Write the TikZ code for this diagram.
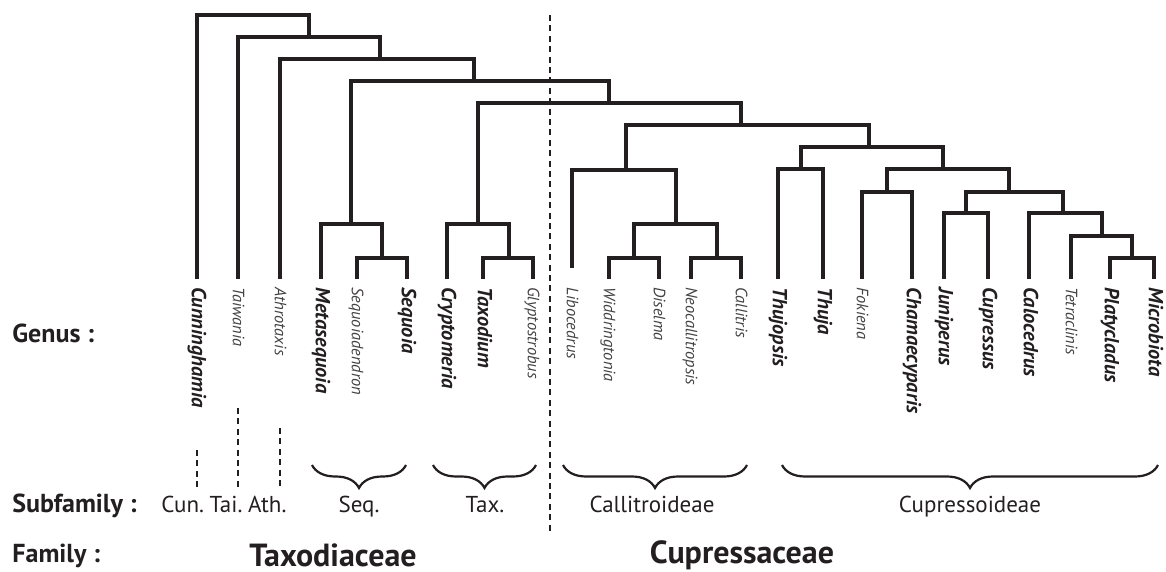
\documentclass[tikz,border=0pt]{standalone}
\usepackage{fontspec}
\setmainfont{PT Sans}
\usetikzlibrary{positioning, decorations.pathreplacing}
\definecolor{treeink}{RGB}{35,31,32}

\begin{document}
\begin{tikzpicture}[
    x=0.5pt, y=-0.5pt,
    branch/.style={draw=treeink, line width=1.6pt},
    divider/.style={draw=treeink, line width=1.3pt, dash pattern=on 3pt off 2.2pt},
    subbrace/.style={draw=treeink, line width=1.1pt, decorate, decoration={brace, mirror, amplitude=11.5pt}},
    genusbold/.style={rotate=-90, anchor=west, inner xsep=4pt, inner ysep=0pt, text height=0.72em, text depth=0.2em, font=\fontsize{10.2}{12}\selectfont\bfseries\itshape, text=treeink},
    genusthin/.style={genusbold, font=\fontsize{8.2}{10}\selectfont\itshape, text=treeink!85},
    rowlabel/.style={anchor=west, inner sep=0pt, font=\fontsize{13}{15}\selectfont\bfseries, text=treeink},
    sublabel/.style={inner xsep=1.2pt, inner ysep=0pt, text height=1.6ex, text depth=0.4ex, font=\fontsize{11.5}{14}\selectfont, text=treeink},
    famlabel/.style={inner sep=0pt, font=\fontsize{16}{18}\selectfont\bfseries, text=treeink},
]
\useasboundingbox (0,0) rectangle (1166,572);

% Genus labels, one per leaf
\node[genusbold] (cun) at (197,279) {Cunninghamia};
\node[genusthin] (tai) at (238,279) {Taiwania};
\node[genusthin] (ath) at (280,279) {Athrotaxis};
\node[genusbold] (meta) at (321,279) {Metasequoia};
\node[genusthin] (sqd) at (357,279) {Sequoiadendron};
\node[genusbold] (seq) at (407,279) {Sequoia};
\node[genusbold] (cry) at (447,279) {Cryptomeria};
\node[genusbold] (tax) at (483,279) {Taxodium};
\node[genusthin] (gly) at (533,279) {Glyptostrobus};
\node[genusthin] (lib) at (572,279) {Libocedrus};
\node[genusthin] (wid) at (609,279) {Widdringtonia};
\node[genusthin] (dis) at (659,279) {Diselma};
\node[genusthin] (neo) at (691,279) {Neocallitropsis};
\node[genusthin] (cal) at (741,279) {Callitris};
\node[genusbold] (thp) at (778,279) {Thujopsis};
\node[genusbold] (thu) at (823,279) {Thuja};
\node[genusthin] (fok) at (862,279) {Fokiena};
\node[genusbold] (cha) at (912,279) {Chamaecyparis};
\node[genusbold] (jun) at (944,279) {Juniperus};
\node[genusbold] (cup) at (988,279) {Cupressus};
\node[genusbold] (cld) at (1029,279) {Calocedrus};
\node[genusthin] (tet) at (1071,279) {Tetraclinis};
\node[genusbold] (pla) at (1110,279) {Platycladus};
\node[genusbold] (mic) at (1154,279) {Microbiota};

% Internal nodes of the tree
\coordinate (root) at (250,15);
\coordinate (n2) at (309,37);
\coordinate (n3) at (380,59);
\coordinate (n4) at (474,81);
\coordinate (n5) at (609,103);
\coordinate (n6) at (741,125);
\coordinate (nseq) at (351,224);
\coordinate (nsq2) at (382,258);
\coordinate (ntax) at (478,224);
\coordinate (ntx2) at (509,258);
\coordinate (ncall) at (626,170);
\coordinate (nwn) at (676,224);
\coordinate (nwd) at (634,258);
\coordinate (nnc) at (717,258);
\coordinate (ncup) at (869,147);
\coordinate (nthu) at (801,169);
\coordinate (nfm) at (943,169);
\coordinate (nfc) at (887,192);
\coordinate (njm) at (1009,192);
\coordinate (njc) at (966,213);
\coordinate (ncm) at (1063,213);
\coordinate (ntm) at (1102,236);
\coordinate (npm) at (1132,258);

% Backbone
\draw[branch] (cun.west) |- (root) -| (n2);
\draw[branch] (tai.west) |- (n2) -| (n3);
\draw[branch] (ath.west) |- (n3) -| (n4);
\draw[branch] (nseq) |- (n4) -| (n5);
\draw[branch] (ntax) |- (n5) -| (n6);
\draw[branch] (ncall) |- (n6) -| (ncup);

% Sequoia and Taxodium clades
\draw[branch] (meta.west) |- (nseq) -| (nsq2);
\draw[branch] (sqd.west) |- (nsq2) -| (seq.west);
\draw[branch] (cry.west) |- (ntax) -| (ntx2);
\draw[branch] (tax.west) |- (ntx2) -| (gly.west);

% Callitroid clade
\draw[branch, shorten <=5.5pt] (lib.west) |- (ncall) -| (nwn);
\draw[branch] (nwd) |- (nwn) -| (nnc);
\draw[branch] (wid.west) |- (nwd) -| (dis.west);
\draw[branch] (neo.west) |- (nnc) -| (cal.west);

% Cupressoid clade
\draw[branch] (nthu) |- (ncup) -| (nfm);
\draw[branch] (thp.west) |- (nthu) -| (thu.west);
\draw[branch] (nfc) |- (nfm) -| (njm);
\draw[branch] (fok.west) |- (nfc) -| (cha.west);
\draw[branch] (njc) |- (njm) -| (ncm);
\draw[branch] (jun.west) |- (njc) -| (cup.west);
\draw[branch] (cld.west) |- (ncm) -| (ntm);
\draw[branch] (tet.west) |- (ntm) -| (npm);
\draw[branch] (pla.west) |- (npm) -| (mic.west);

% Family divider and single-genus stubs
\coordinate (divtop) at (550,15);
\coordinate (divbot) at (550,532);
\draw[divider] (divtop) -- (divbot);
\coordinate (cundash) at (197,450);
\coordinate (taidash) at (238,408);
\coordinate (athdash) at (280,428);
\draw[divider] (cundash) -- (cundash |- 0,488);
\draw[divider] (taidash) -- (taidash |- 0,488);
\draw[divider] (athdash) -- (athdash |- 0,488);

% Subfamily braces
\draw[subbrace] (312,465) -- (406,465);
\draw[subbrace] (433,465) -- (536,465);
\draw[subbrace] (563,465) -- (747,465);
\draw[subbrace] (782,465) -- (1158,465);

% Row labels
\node[rowlabel] (genus) at (12,333) {Genus :};
\node[rowlabel] (subfam) at (12,506) {Subfamily :};
\node[rowlabel] (fam) at (12,556) {Family :};

% Subfamilies
\node[sublabel] (taisub) at (226,506) {Tai.};
\node[sublabel, left=0pt of taisub] (cunsub) {Cun.};
\node[sublabel, right=0pt of taisub] (athsub) {Ath.};
\node[sublabel] (seqsub) at (359,506) {Seq.};
\node[sublabel] (taxsub) at (485,506) {Tax.};
\node[sublabel] (callsub) at (652,506) {Callitroideae};
\node[sublabel] (cupsub) at (970,506) {Cupressoideae};

% Families
\node[famlabel] (taxo) at (333,555) {Taxodiaceae};
\node[famlabel] (cupr) at (742,555) {Cupressaceae};

\end{tikzpicture}
\end{document}
